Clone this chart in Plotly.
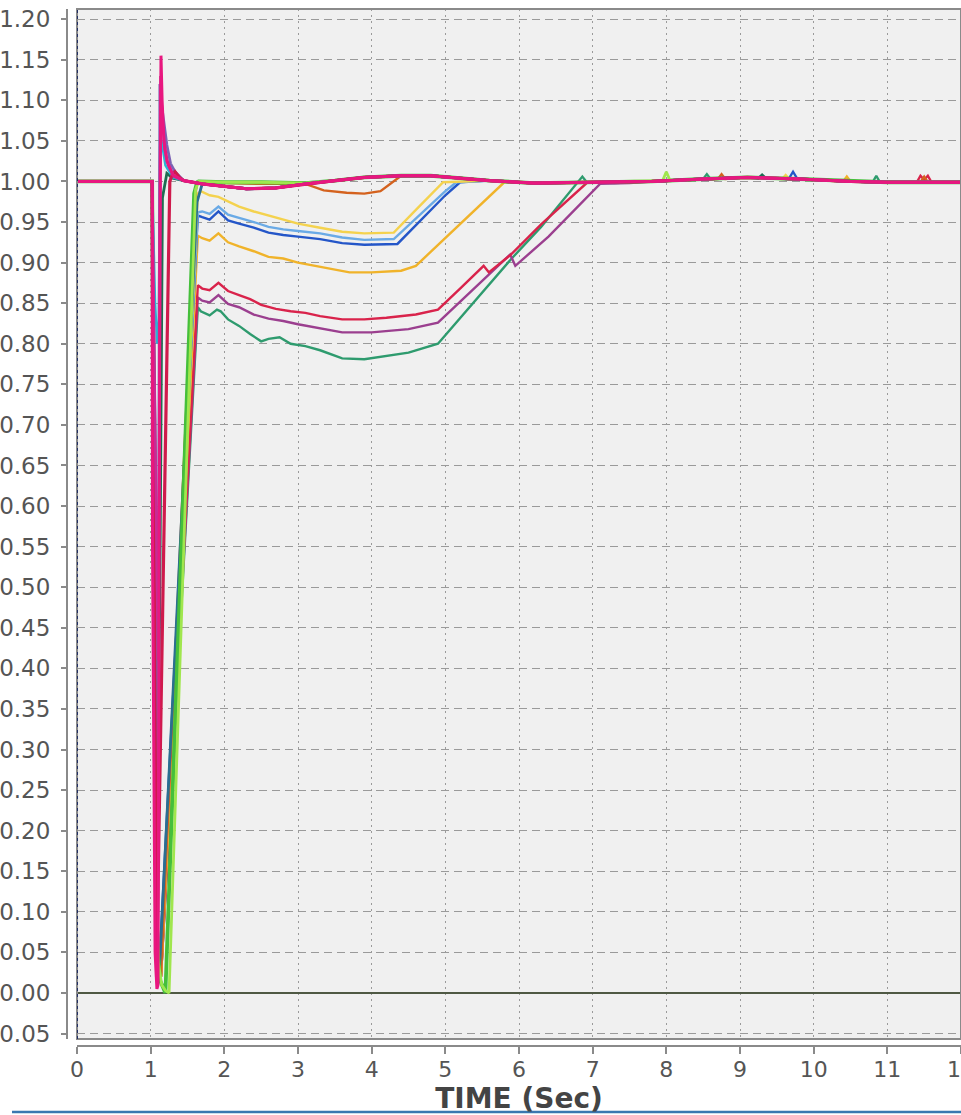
import plotly.graph_objects as go

# ---------------------------------------------------------------------------
# Bus voltage (pu) versus time (s) for a fault applied at t = 1.02 s
# ---------------------------------------------------------------------------

# settled band shared by every recovered bus
tail_t = [5.6, 6.2, 7.0, 7.8, 8.5, 9.1, 9.8, 10.5, 11.0, 12.0]
tail_v = [1.001, 0.998, 0.999, 1.000, 1.003, 1.005, 1.003, 1.000, 0.999, 0.999]

# band right after clearing: buses that sag slightly, and buses that stay flat
low_t = [1.45, 1.7, 2.0, 2.3, 2.7, 3.1, 3.5, 3.9, 4.4, 4.8, 5.2]
low_v = [1.001, 0.997, 0.994, 0.991, 0.992, 0.997, 1.001, 1.005, 1.007, 1.007, 1.004]
high_t = [1.65, 2.0, 2.5, 3.1, 3.5, 3.9, 4.4, 4.8, 5.2]
high_v = [1.000, 0.999, 0.999, 0.998, 1.001, 1.005, 1.007, 1.007, 1.004]

# dead bus held at zero
zero_t = [0.0, 12.0]
zero_v = [0.0, 0.0]

# slow-recovering buses
teal_t = [0, 1.02, 1.05, 1.09, 1.14, 1.64, 1.68, 1.8, 1.9, 1.95, 2.05, 2.2, 2.35, 2.5, 2.6, 2.75,
          2.9, 3.1, 3.3, 3.6, 3.9, 4.2, 4.5, 4.9, 5.3, 5.6, 5.9, 6.3, 6.8, 6.86, 6.92, 7.3]
teal_v = [1, 1, 0.45, 0.05, 0.02, 0.845, 0.840, 0.835, 0.842, 0.840, 0.830, 0.822, 0.812, 0.803,
          0.806, 0.808, 0.800, 0.797, 0.792, 0.782, 0.781, 0.785, 0.789, 0.800, 0.842, 0.874,
          0.905, 0.944, 1.000, 1.006, 0.999, 0.998]
teal_bt = [8.5, 8.55, 8.6, 10.8, 10.85, 10.9]
teal_bv = [1.003, 1.009, 1.003, 0.999, 1.007, 0.999]

plum_t = [0, 1.02, 1.05, 1.09, 1.14, 1.64, 1.7, 1.8, 1.92, 2.05, 2.2, 2.4, 2.6, 2.8, 3.0, 3.3,
          3.6, 4.0, 4.5, 4.9, 5.3, 5.6, 5.88, 5.95, 6.4, 7.1, 7.5]
plum_v = [1, 1, 0.45, 0.05, 0.02, 0.857, 0.853, 0.851, 0.860, 0.849, 0.845, 0.836, 0.831, 0.828,
          0.824, 0.819, 0.814, 0.814, 0.818, 0.826, 0.860, 0.885, 0.910, 0.896, 0.932, 0.997, 0.998]

red_t = [0, 1.02, 1.05, 1.09, 1.14, 1.64, 1.7, 1.8, 1.92, 2.05, 2.2, 2.35, 2.5, 2.7, 2.9, 3.1,
         3.3, 3.6, 3.9, 4.2, 4.6, 4.9, 5.2, 5.52, 5.59, 5.88, 6.3, 6.93, 7.3]
red_v = [1, 1, 0.45, 0.05, 0.02, 0.872, 0.868, 0.866, 0.875, 0.865, 0.860, 0.855, 0.848, 0.843,
         0.840, 0.838, 0.834, 0.830, 0.830, 0.832, 0.836, 0.842, 0.868, 0.896, 0.888, 0.909,
         0.947, 0.999, 0.999]
red_bt = [11.4, 11.45, 11.5, 11.55, 11.6]
red_bv = [0.999, 1.007, 1.002, 1.007, 0.999]

gold_t = [0, 1.02, 1.05, 1.09, 1.14, 1.64, 1.7, 1.8, 1.92, 2.05, 2.2, 2.4, 2.6, 2.8, 3.0, 3.3,
          3.7, 4.0, 4.4, 4.6, 5.0, 5.4, 5.8, 6.2]
gold_v = [1, 1, 0.45, 0.05, 0.02, 0.933, 0.930, 0.927, 0.936, 0.925, 0.920, 0.914, 0.907, 0.905,
          0.900, 0.895, 0.888, 0.888, 0.890, 0.896, 0.930, 0.965, 0.999, 0.999]
gold_bt = [10.4, 10.45, 10.5]
gold_bv = [1.000, 1.006, 1.000]

blue_t = [0, 1.02, 1.05, 1.09, 1.12, 1.64, 1.7, 1.8, 1.92, 2.05, 2.2, 2.4, 2.6, 2.8, 3.0, 3.3,
          3.6, 3.9, 4.35, 4.7, 5.0, 5.2]
blue_v = [1, 1, 0.45, 0.05, 0.04, 0.958, 0.956, 0.953, 0.963, 0.952, 0.948, 0.943, 0.937, 0.934,
          0.932, 0.929, 0.924, 0.922, 0.923, 0.955, 0.983, 0.999]
blue_bt = [9.66, 9.72, 9.78]
blue_bv = [1.003, 1.012, 1.003]

lblue_t = [0, 1.02, 1.05, 1.09, 1.13, 1.64, 1.7, 1.8, 1.92, 2.05, 2.2, 2.4, 2.6, 2.8, 3.0, 3.3,
           3.6, 3.9, 4.3, 4.7, 5.0, 5.15]
lblue_v = [1, 1, 0.45, 0.05, 0.03, 0.962, 0.963, 0.960, 0.969, 0.959, 0.955, 0.950, 0.944, 0.941,
           0.939, 0.936, 0.931, 0.928, 0.929, 0.963, 0.988, 0.999]

yellow_t = [0, 1.02, 1.05, 1.09, 1.14, 1.64, 1.68, 1.8, 1.92, 2.05, 2.2, 2.4, 2.6, 2.8, 3.0, 3.3,
            3.6, 3.9, 4.3, 4.6, 4.97]
yellow_v = [1, 1, 0.45, 0.05, 0.02, 0.985, 0.988, 0.983, 0.981, 0.975, 0.969, 0.963, 0.958,
            0.953, 0.948, 0.943, 0.938, 0.936, 0.937, 0.965, 0.999]
yellow_bt = [9.57, 9.62, 9.67]
yellow_bv = [1.003, 1.008, 1.003]

orange_t = [0, 1.02, 1.05, 1.09, 1.14, 1.62, 2.0, 2.5, 3.1, 3.35, 3.66, 3.9, 4.12, 4.3]
orange_v = [1, 1, 0.45, 0.05, 0.02, 0.998, 0.998, 0.997, 0.997, 0.989, 0.986, 0.985, 0.988, 1.000]
orange_bt = [8.7, 8.75, 8.8, 11.45, 11.5, 11.55]
orange_bv = [1.003, 1.009, 1.003, 0.999, 1.006, 0.999]

# fast ramps back to nominal
dteal_t = [0, 1.02, 1.05, 1.09, 1.12, 1.63]
dteal_v = [1, 1, 0.45, 0.05, 0.03, 0.975]

green_t = [0, 1.02, 1.05, 1.09, 1.13, 1.2, 1.59, 1.63]
green_v = [1, 1, 0.5, 0.06, 0.015, 0.0, 0.985, 0.999]

lime_t = [0, 1.02, 1.06, 1.1, 1.15, 1.2, 1.25, 1.61]
lime_v = [1, 1, 0.4, 0.04, 0.01, 0.003, 0.0, 0.99]
lime_bt = [7.95, 8.0, 8.05]
lime_bv = [1.001, 1.012, 1.001]

# near-fault buses: deep dip, then overshoot on clearing
dgreen_t = [0, 1.02, 1.07, 1.11, 1.125, 1.16, 1.22, 1.3]
dgreen_v = [1, 1, 0.6, 0.371, 0.5, 0.98, 1.01, 1.004]
dgreen_bt = [9.25, 9.3, 9.35]
dgreen_bv = [1.004, 1.008, 1.004]

cyan_t = [0, 1.02, 1.06, 1.09, 1.11, 1.13, 1.2, 1.3]
cyan_v = [1, 1, 0.85, 0.80, 0.83, 1.06, 1.02, 1.005]

purple_t = [0, 1.02, 1.045, 1.08, 1.10, 1.125, 1.14, 1.18, 1.22, 1.27, 1.33]
purple_v = [1, 1, 0.6, 0.26, 0.3, 1.12, 1.10, 1.07, 1.045, 1.022, 1.012]

crim_t = [0, 1.02, 1.05, 1.08, 1.26, 1.29, 1.33, 1.4]
crim_v = [1, 1, 0.5, 0.02, 1.0, 1.008, 1.012, 1.004]

magenta_t = [0, 1.02, 1.06, 1.10, 1.115, 1.135, 1.15, 1.19, 1.24, 1.32]
magenta_v = [1, 1, 0.7, 0.41, 0.6, 1.13, 1.09, 1.04, 1.02, 1.006]

pink_t = [0, 1.02, 1.025, 1.06, 1.085, 1.10, 1.125, 1.14, 1.155, 1.18, 1.22, 1.3]
pink_v = [1, 1, 0.55, 0.05, 0.005, 0.01, 0.9, 1.155, 1.10, 1.05, 1.025, 1.008]

y_ticks = [-0.05, 0.0, 0.05, 0.10, 0.15, 0.20, 0.25, 0.30, 0.35, 0.40, 0.45, 0.50, 0.55, 0.60,
           0.65, 0.70, 0.75, 0.80, 0.85, 0.90, 0.95, 1.00, 1.05, 1.10, 1.15, 1.20]
x_ticks = list(range(0, 13))


def join(head_t, head_v, band_t=None, band_v=None, blip_t=(), blip_v=()):
    """Head of a trace, then the shared band and tail after it, with local blips."""
    pts = list(zip(head_t, head_v))
    last = head_t[-1]
    if band_t is not None:
        pts += [(t, v) for t, v in zip(band_t, band_v) if t > last]
        last = max(last, band_t[-1])
    pts += [(t, v) for t, v in zip(tail_t, tail_v) if t > last]
    pts += list(zip(blip_t, blip_v))
    pts.sort(key=lambda p: p[0])
    return [p[0] for p in pts], [p[1] for p in pts]


series = [
    ("zero", (zero_t, zero_v), "#4f5944", 2.0),
    ("teal", join(teal_t, teal_v, blip_t=teal_bt, blip_v=teal_bv), "#2e9b6e", 2.4),
    ("plum", join(plum_t, plum_v), "#9b3f8f", 2.4),
    ("red", join(red_t, red_v, blip_t=red_bt, blip_v=red_bv), "#d9234b", 2.4),
    ("gold", join(gold_t, gold_v, blip_t=gold_bt, blip_v=gold_bv), "#f0b32a", 2.4),
    ("blue", join(blue_t, blue_v, blip_t=blue_bt, blip_v=blue_bv), "#2456c8", 2.4),
    ("lblue", join(lblue_t, lblue_v), "#6aaae6", 2.4),
    ("yellow", join(yellow_t, yellow_v, blip_t=yellow_bt, blip_v=yellow_bv), "#f4d24e", 2.4),
    ("orange", join(orange_t, orange_v, high_t, high_v, orange_bt, orange_bv), "#d4621e", 2.4),
    ("dteal", join(dteal_t, dteal_v, low_t, low_v), "#2a6f8f", 2.8),
    ("green", join(green_t, green_v, high_t, high_v), "#45bf3b", 3.8),
    ("lime", join(lime_t, lime_v, high_t, high_v, lime_bt, lime_bv), "#a0e64e", 2.8),
    ("dgreen", join(dgreen_t, dgreen_v, low_t, low_v, dgreen_bt, dgreen_bv), "#1e6c52", 2.8),
    ("cyan", join(cyan_t, cyan_v, low_t, low_v), "#2bb3d6", 2.4),
    ("purple", join(purple_t, purple_v, low_t, low_v), "#7c62b4", 2.8),
    ("crimson", join(crim_t, crim_v, low_t, low_v), "#cf1a4c", 3.2),
    ("magenta", join(magenta_t, magenta_v, low_t, low_v), "#c92a95", 2.8),
    ("pink", join(pink_t, pink_v, low_t, low_v), "#e8177f", 3.0),
]

fig = go.Figure()
for name, (tt, vv), color, width in series:
    fig.add_trace(go.Scatter(x=tt, y=vv, mode="lines", name=name,
                             line=dict(color=color, width=width), hoverinfo="skip"))

W, H = 961, 1115
ML, MR, MT, MB = 67, 0, 9, 69
pw = W - ML - MR
ph = H - MT - MB

font_family = "Verdana, DejaVu Sans, sans-serif"

fig.update_layout(
    width=W, height=H,
    margin=dict(l=ML, r=MR, t=MT, b=MB, pad=0, autoexpand=False),
    paper_bgcolor="white",
    plot_bgcolor="#f0f0f0",
    showlegend=False,
    font=dict(family=font_family, color="#555555"),
    xaxis=dict(
        range=[0, 12], domain=[10 / pw, 1], anchor="free", position=0, automargin=False,
        tickvals=x_ticks, ticktext=[str(v) for v in x_ticks],
        ticks="outside", ticklen=7, tickwidth=2, tickcolor="#8a8a8a",
        ticklabeloverflow="allow", ticklabelstandoff=-3,
        showline=True, linecolor="#8a8a8a", linewidth=2,
        showgrid=True, gridcolor="#9a9a9a", gridwidth=1, griddash="2px,4px",
        zeroline=False, tickfont=dict(size=22, color="#555555"),
        title=dict(text="<b>TIME (Sec)</b>", font=dict(size=28, color="#444444"), standoff=4),
    ),
    yaxis=dict(
        range=[-0.0567, 1.2125], domain=[7 / ph, 1], anchor="free", position=0, automargin=False,
        tickvals=y_ticks, ticktext=[f"{v:.2f}" for v in y_ticks],
        ticks="outside", ticklen=5, tickwidth=2, tickcolor="#8a8a8a",
        ticklabeloverflow="allow", ticklabelstandoff=6,
        showline=True, linecolor="#8a8a8a", linewidth=2,
        showgrid=True, gridcolor="#9a9a9a", gridwidth=1, griddash="8px,5px",
        zeroline=False, tickfont=dict(size=23, color="#555555"),
    ),
    shapes=[
        # plot frame
        dict(type="rect", xref="x domain", yref="y domain", x0=0, x1=1, y0=0, y1=1,
             line=dict(color="#8a8a8a", width=2), layer="above"),
        # t = 0 marker line
        dict(type="line", xref="x", yref="y domain", x0=0, x1=0, y0=0, y1=1,
             line=dict(color="#233066", width=2, dash="dot"), layer="above"),
        # rule under the chart
        dict(type="line", xref="paper", yref="paper",
             x0=(12 - ML) / pw, x1=1.0, y0=-(1112 - (H - MB)) / ph, y1=-(1112 - (H - MB)) / ph,
             line=dict(color="#3a78b0", width=2.5)),
    ],
)

fig.write_html("out.html")
